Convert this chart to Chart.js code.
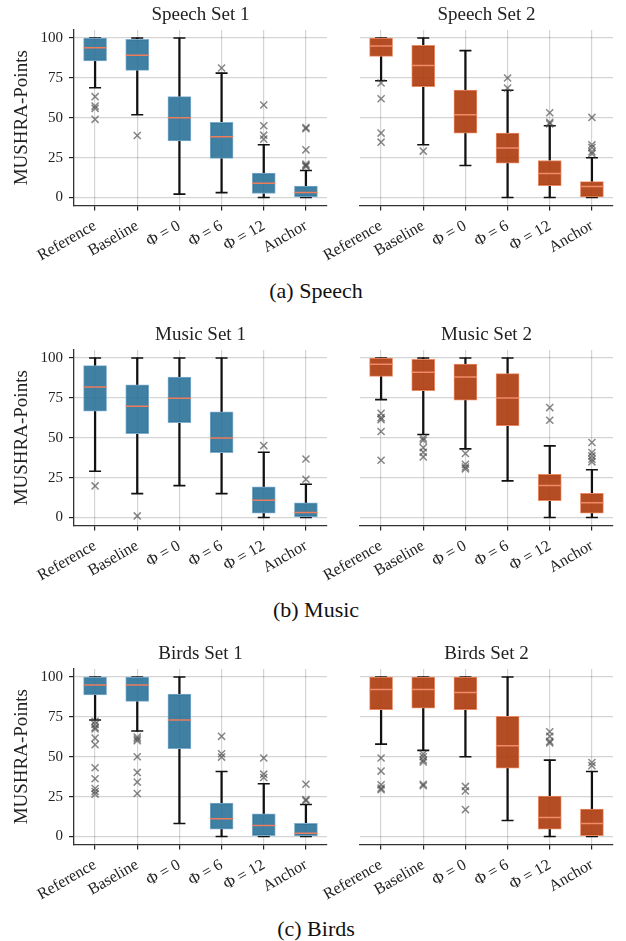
<!DOCTYPE html>
<html><head><meta charset="utf-8">
<script src="https://cdn.jsdelivr.net/npm/chart.js@4.4.1/dist/chart.umd.min.js"></script>
<style>
html,body{margin:0;padding:0;background:#fff;}
body{width:626px;height:941px;position:relative;overflow:hidden;}
canvas{position:absolute;}
.cap{position:absolute;left:0;width:632px;text-align:center;font-family:'Liberation Serif',serif;font-size:22px;color:#111;line-height:26px;}
</style></head><body>
<script>
// ---------------- data ----------------
const categories = ['Reference', 'Baseline', 'Φ = 0', 'Φ = 6', 'Φ = 12', 'Anchor'];
const yTickValues = [0, 25, 50, 75, 100];
const panelTitles = ['Speech Set 1', 'Speech Set 2', 'Music Set 1', 'Music Set 2', 'Birds Set 1', 'Birds Set 2'];
const captions = ['(a) Speech', '(b) Music', '(c) Birds'];
const yAxisLabel = 'MUSHRA-Points';

// Speech Set 1
const speech1Q1  = [85.6, 79.7, 35.4, 24.5, 2.5, 0];
const speech1Med = [93.9, 89.1, 50.0, 38.1, 9.0, 3.1];
const speech1Q3  = [100, 99.2, 63.2, 47.1, 15.3, 7.1];
const speech1Lo  = [68.8, 51.9, 2.1, 3.1, 0, 0];
const speech1Hi  = [100, 100, 100, 78.0, 33.1, 16.9];
const speech1Out = [[63.2, 57.3, 55.9, 49.0], [38.9], [], [81.2], [58.0, 45.0, 39.1, 36.6], [43.9, 43.1, 29.9, 20.9, 20.1, 19.5]];

// Speech Set 2
const speech2Q1  = [88.5, 69.5, 40.4, 21.5, 7.5, 0];
const speech2Med = [95.0, 82.8, 51.9, 31.0, 15.1, 6.9];
const speech2Q3  = [100, 95.4, 67.4, 40.4, 23.2, 10.0];
const speech2Lo  = [73.2, 33.1, 20.1, 0, 0, 0];
const speech2Hi  = [100, 100, 92.1, 67.2, 45.0, 24.9];
const speech2Out = [[71.8, 61.9, 40.4, 34.7], [29.1], [], [74.9, 68.6], [53.1, 47.1, 46.2], [50.2, 33.1, 31.4, 28.7, 27.4]];

// Music Set 1
const music1Q1  = [66.6, 52.6, 59.5, 40.7, 2.7, 0];
const music1Med = [81.8, 69.7, 74.7, 49.9, 10.9, 3.1];
const music1Q3  = [95.2, 83.1, 88.1, 66.2, 19.2, 9.2];
const music1Lo  = [29.0, 15.0, 20.0, 15.0, 0, 0];
const music1Hi  = [100, 100, 100, 100, 40.9, 20.9];
const music1Out = [[19.8], [1.0], [], [], [45.1], [36.7, 24.0]];

// Music Set 2
const music2Q1  = [88.5, 79.5, 73.5, 57.6, 10.6, 2.7];
const music2Med = [96.0, 91.0, 88.1, 74.9, 20.0, 9.2];
const music2Q3  = [100, 99.2, 96.2, 90.2, 27.1, 15.2];
const music2Lo  = [73.9, 52.0, 43.0, 23.0, 0, 0];
const music2Hi  = [100, 100, 100, 100, 44.9, 29.9];
const music2Out = [[65.3, 62.6, 61.4, 53.9, 35.9], [49.7, 48.4, 43.8, 40.9, 38.0], [40.1, 33.4, 31.7, 30.5], [], [68.9, 61.0], [47.0, 40.7, 38.6, 36.5, 34.9]];

// Birds Set 1
const birds1Q1  = [88.7, 84.7, 55.0, 4.6, 0.6, 0];
const birds1Med = [95.0, 95.0, 73.0, 11.1, 6.9, 2.1];
const birds1Q3  = [100, 100, 89.3, 20.9, 14.2, 8.2];
const birds1Lo  = [73.0, 66.1, 8.2, 0, 0, 0];
const birds1Hi  = [100, 100, 100, 40.8, 33.1, 20.1];
const birds1Out = [[72.2, 70.3, 68.4, 67.4, 61.7, 57.5, 43.1, 36.2, 30.1, 28.2, 26.6], [62.3, 61.1, 60.0, 50.0, 40.2, 34.1, 27.0], [], [62.8, 51.9, 49.8], [49.2, 39.1, 37.0], [32.8, 23.2, 22.4]];

// Birds Set 2
const birds2Q1  = [79.5, 80.5, 79.5, 42.9, 4.6, 0.6];
const birds2Med = [92.1, 92.1, 90.2, 56.9, 11.9, 8.2];
const birds2Q3  = [100, 100, 100, 75.3, 25.3, 17.2];
const birds2Lo  = [57.9, 54.0, 50.0, 10.0, 0, 0];
const birds2Hi  = [100, 100, 100, 100, 47.9, 40.8];
const birds2Out = [[49.2, 41.0, 32.4, 30.3, 29.3], [51.7, 50.0, 47.9, 46.7, 32.8, 31.8], [31.4, 28.5, 16.9], [], [65.7, 62.8, 59.6, 58.6], [46.4, 44.4]];

// ---------------- table built from the arrays ----------------
const panels = [
  {q1: speech1Q1, med: speech1Med, q3: speech1Q3, lo: speech1Lo, hi: speech1Hi, out: speech1Out},
  {q1: speech2Q1, med: speech2Med, q3: speech2Q3, lo: speech2Lo, hi: speech2Hi, out: speech2Out},
  {q1: music1Q1, med: music1Med, q3: music1Q3, lo: music1Lo, hi: music1Hi, out: music1Out},
  {q1: music2Q1, med: music2Med, q3: music2Q3, lo: music2Lo, hi: music2Hi, out: music2Out},
  {q1: birds1Q1, med: birds1Med, q3: birds1Q3, lo: birds1Lo, hi: birds1Hi, out: birds1Out},
  {q1: birds2Q1, med: birds2Med, q3: birds2Q3, lo: birds2Lo, hi: birds2Hi, out: birds2Out}
];

// ---------------- styling / layout ----------------
const SERIF = "'Liberation Serif', 'Times New Roman', serif";
const COLORS = [
  {fill: 'rgba(38,110,150,0.88)', edge: 'rgba(130,175,205,1)', median: '#ee7d5c'},
  {fill: 'rgba(172,58,12,0.9)', edge: 'rgba(232,140,105,1)', median: '#f08a68'}
];
const CANVAS_TOPS = [0, 320, 639];
const CANVAS_H = 275;
const TOP_SPACE = 30;      // title block height
const PLOT_H = 175.5;
const CAPTION_Y = [278, 597, 916];

Chart.defaults.font.family = SERIF;
Chart.defaults.color = '#222';
Chart.defaults.animation = false;

function build(idx) {
  const p = panels[idx];
  const col = idx % 2;
  const row = Math.floor(idx / 2);
  const isLeft = col === 0;
  const cv = document.createElement('canvas');
  const left = isLeft ? 0 : 296;
  const width = isLeft ? 340 : 330;
  cv.width = width; cv.height = CANVAS_H;
  cv.style.left = left + 'px';
  cv.style.top = CANVAS_TOPS[row] + 'px';
  cv.style.width = width + 'px'; cv.style.height = CANVAS_H + 'px';
  document.body.appendChild(cv);
  const c = COLORS[col];

  const capPts = [];
  categories.forEach((cat, i) => { capPts.push({x: cat, y: p.lo[i]}); capPts.push({x: cat, y: p.hi[i]}); });
  const medPts = categories.map((cat, i) => ({x: cat, y: p.med[i]}));
  const outPts = [];
  categories.forEach((cat, i) => p.out[i].forEach(v => outPts.push({x: cat, y: v})));

  new Chart(cv, {
    type: 'bar',
    data: {
      labels: categories,
      datasets: [
        {type: 'bar', data: categories.map((_, i) => [p.lo[i], p.q1[i]]), backgroundColor: '#111', borderWidth: 0,
         barThickness: 1.6, grouped: false, order: 6},
        {type: 'bar', data: categories.map((_, i) => [p.q3[i], p.hi[i]]), backgroundColor: '#111', borderWidth: 0,
         barThickness: 1.6, grouped: false, order: 5},
        {type: 'line', data: capPts, showLine: false, pointStyle: 'line', pointRadius: 6, pointHoverRadius: 6,
         pointBorderColor: '#111', pointBorderWidth: 1.6, order: 4},
        {type: 'bar', data: categories.map((_, i) => [p.q1[i], p.q3[i]]), backgroundColor: c.fill, borderColor: c.edge,
         borderWidth: 1, borderSkipped: false, barThickness: 23, grouped: false, order: 3},
        {type: 'line', data: medPts, showLine: false, pointStyle: 'line', pointRadius: 11.5, pointHoverRadius: 11.5,
         pointBorderColor: c.median, pointBorderWidth: 1.5, order: 2},
        {type: 'line', data: outPts, showLine: false, pointStyle: 'crossRot', pointRadius: 5, pointHoverRadius: 5,
         pointBorderColor: 'rgba(70,70,70,0.65)', pointBackgroundColor: 'rgba(0,0,0,0)', pointBorderWidth: 1.5, order: 1}
      ]
    },
    options: {
      responsive: false,
      animation: false,
      events: [],
      layout: {padding: {left: 0, right: 5, top: 0, bottom: 0}},
      plugins: {
        legend: {display: false},
        tooltip: {enabled: false},
        title: {display: true, text: panelTitles[idx], fullSize: false, color: '#222',
                font: {family: SERIF, size: 19, weight: 'normal', lineHeight: 1.2},
                padding: {top: 4, bottom: TOP_SPACE - 4 - 19 * 1.2}}
      },
      scales: {
        x: {
          type: 'category',
          offset: true,
          grid: {offset: false, display: true, color: 'rgba(0,0,0,0.17)', lineWidth: 1.2,
                 drawTicks: true, tickLength: 5, tickColor: '#222', tickWidth: 1.2},
          border: {display: true, color: '#333', width: 1.3},
          ticks: {autoSkip: false, minRotation: 30, maxRotation: 30, padding: 6, color: '#222',
                  font: {family: SERIF, size: 16}},
          afterFit: s => { s.height = CANVAS_H - TOP_SPACE - PLOT_H; }
        },
        y: {
          min: -5, max: 105,
          afterBuildTicks: s => { s.ticks = yTickValues.map(v => ({value: v})); },
          grid: {color: 'rgba(0,0,0,0.17)', lineWidth: 1.2, drawTicks: isLeft, tickLength: 5, tickColor: '#222', tickWidth: 1.2},
          border: {display: isLeft, color: '#333', width: 1.3},
          ticks: {display: isLeft, padding: 6, color: '#222', font: {family: SERIF, size: 15}},
          title: {display: isLeft, text: yAxisLabel, color: '#222', font: {family: SERIF, size: 19},
                  padding: {top: 10.6, bottom: 0}},
          afterFit: s => { s.width = isLeft ? 74 : 64; }
        }
      }
    }
  });
}

for (let i = 0; i < 6; i++) build(i);
captions.forEach((t, r) => {
  const d = document.createElement('div');
  d.className = 'cap';
  d.style.top = CAPTION_Y[r] + 'px';
  d.textContent = t;
  document.body.appendChild(d);
});
</script>
</body></html>
